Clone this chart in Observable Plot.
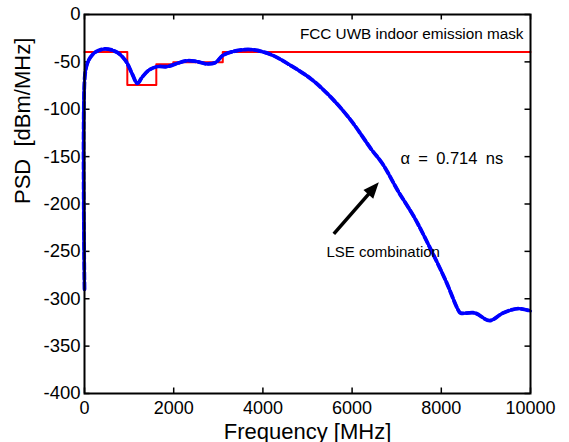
<!DOCTYPE html>
<html>
<head>
<meta charset="utf-8">
<script src="https://cdn.jsdelivr.net/npm/d3@7"></script>
<script src="https://cdn.jsdelivr.net/npm/@observablehq/plot@0.6"></script>
<style>
  html, body { margin: 0; padding: 0; background: white; }
</style>
</head>
<body>
<div id="chart"></div>
<script>
// Frequency (MHz) and PSD (dBm/MHz) of the LSE-combined pulse
const freq = [0, 8, 60, 135, 250, 472, 734, 921, 1071, 1184, 1296, 1446, 1633, 1858, 2083, 2307, 2494, 2757, 2944, 3094, 3356, 3730, 4180, 4629, 5079, 5528, 5978, 6427, 6689, 7026, 7400, 7775, 8100, 8380, 8430, 8749, 9086, 9386, 9723, 10000];
const psd  = [-290, -65, -52, -45, -39.5, -36.3, -40, -48.7, -62.8, -72.7, -66, -58.6, -55, -55, -51.5, -48.7, -49.4, -52.2, -50.5, -43.4, -38.8, -37, -42.3, -54, -68, -87.5, -112, -142, -158, -186, -214.5, -249, -281, -312, -315, -315, -323, -315, -310.4, -313];

// FCC UWB indoor emission mask (step levels)
const maskFreq  = [0, 960, 1610, 1990, 3100, 10000];
const maskLevel = [-39.5, -74.5, -52.5, -50.5, -39.5, -39.5];

const xTicks = [0, 2000, 4000, 6000, 8000, 10000];
const yTicks = [0, -50, -100, -150, -200, -250, -300, -350, -400];

const curve = freq.map((f, i) => ({f, p: psd[i]}));
const mask = maskFreq.map((f, i) => ({f, p: maskLevel[i]}));

// annotation arrow (tail -> tip) in data coordinates
const arrowTail = {f: 5590, p: -231.6};
const arrowTip = {f: 6599, p: -177.1};
const k = 0.15;
const arrowShaftEnd = {f: arrowTip.f - (arrowTip.f - arrowTail.f) * k, p: arrowTip.p - (arrowTip.p - arrowTail.p) * k};

const W = 569, H = 442;
const mL = 84, mR = 39, mT = 14, mB = 49;
const pw = W - mL - mR, ph = H - mT - mB;
const tick = 5.5;

const arrowHead = {
  draw(ctx) {
    ctx.moveTo(0, 0);
    ctx.lineTo(-6.5, 16);
    ctx.lineTo(6.5, 16);
    ctx.closePath();
  }
};

const font = "'Liberation Sans', Arial, Helvetica, sans-serif";

const chart = Plot.plot({
  width: W,
  height: H,
  marginLeft: mL,
  marginRight: mR,
  marginTop: mT,
  marginBottom: mB,
  style: {fontFamily: font, background: "white", color: "black"},
  x: {domain: [0, 10000], axis: null},
  y: {domain: [-400, 0], axis: null},
  marks: [
    // ticks pointing inward on all four sides
    Plot.tickX(xTicks, {x: d => d, insetTop: ph - tick, stroke: "black", strokeWidth: 1.5}),
    Plot.tickX(xTicks, {x: d => d, insetBottom: ph - tick, stroke: "black", strokeWidth: 1.5}),
    Plot.tickY(yTicks, {y: d => d, insetRight: pw - tick, stroke: "black", strokeWidth: 1.5}),
    Plot.tickY(yTicks, {y: d => d, insetLeft: pw - tick, stroke: "black", strokeWidth: 1.5}),
    Plot.axisX({ticks: xTicks, tickSize: 0, tickPadding: 7.5, fontSize: 18, tickFormat: d => String(d), label: null}),
    Plot.axisY({ticks: yTicks, tickSize: 0, tickPadding: 4, fontSize: 18.5, tickFormat: d => String(d), label: null}),
    Plot.line(mask, {x: "f", y: "p", curve: "step-after", stroke: "#ff0000", strokeWidth: 2}),
    Plot.line(curve, {x: "f", y: "p", curve: "catmull-rom", stroke: "#0000ff", strokeWidth: 3}),
    Plot.line(curve, {x: "f", y: "p", curve: "catmull-rom", stroke: "#0000ff", strokeWidth: 3.8, strokeDasharray: "7,3"}),
    Plot.frame({stroke: "black", strokeWidth: 2}),
    // annotations
    Plot.text(["FCC UWB indoor emission mask"], {x: 9843, y: -20.3, textAnchor: "end", fontSize: 15.3, fill: "black"}),
    Plot.text(["\u03b1\u2002=\u20020.714\u2002ns"], {x: 7085, y: -152, textAnchor: "start", fontSize: 16.5, fill: "black"}),
    Plot.text(["LSE combination"], {x: 5426, y: -250.5, textAnchor: "start", fontSize: 15, fill: "black"}),
    Plot.link([0], {x1: () => arrowTail.f, y1: () => arrowTail.p, x2: () => arrowShaftEnd.f, y2: () => arrowShaftEnd.p, stroke: "black", strokeWidth: 3.5}),
    Plot.dot([0], {x: () => arrowTip.f, y: () => arrowTip.p, symbol: arrowHead, fill: "black", stroke: "none", rotate: 41, r: 5}),
    // axis titles
    Plot.text(["Frequency [MHz]"], {frameAnchor: "bottom", lineAnchor: "bottom", dy: 45, fontSize: 22, fill: "black"}),
    Plot.text(["PSD\u00a0 [dBm/MHz]"], {frameAnchor: "left", lineAnchor: "middle", dx: -62, rotate: -90, fontSize: 22, fill: "black"})
  ]
});

document.getElementById("chart").appendChild(chart);
</script>
</body>
</html>
